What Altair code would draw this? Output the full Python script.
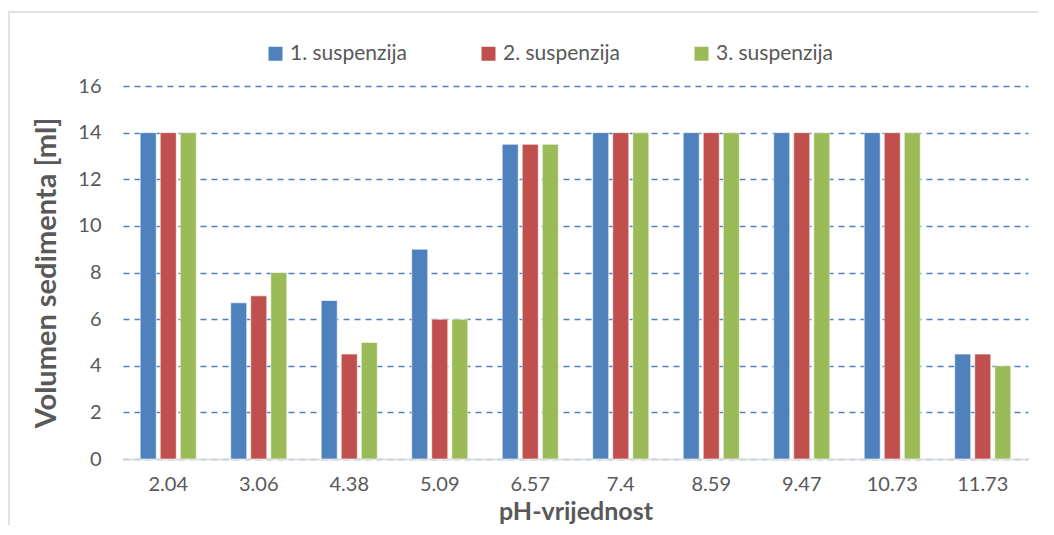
import altair as alt
import pandas as pd

ph = ["2.04", "3.06", "4.38", "5.09", "6.57", "7.4", "8.59", "9.47", "10.73", "11.73"]
series = ["1. suspenzija", "2. suspenzija", "3. suspenzija"]
s1 = [14, 6.7, 6.8, 9, 13.5, 14, 14, 14, 14, 4.5]
s2 = [14, 7, 4.5, 6, 13.5, 14, 14, 14, 14, 4.5]
s3 = [14, 8, 5, 6, 13.5, 14, 14, 14, 14, 4]
colors = ["#4F81BD", "#C0504D", "#9BBB59"]

rows = []
for name, vals in zip(series, [s1, s2, s3]):
    for p, v in zip(ph, vals):
        rows.append({"pH": p, "serija": name, "v": v})
df = pd.DataFrame(rows)

FONT = "Lato"
W, H = 905, 373

bars = alt.Chart(df).mark_bar(stroke="#ffffff", strokeWidth=1, strokeOpacity=0.6).encode(
    x=alt.X("pH:N", sort=ph,
            scale=alt.Scale(paddingInner=0.38, paddingOuter=0.19),
            axis=alt.Axis(title="pH-vrijednost", labelAngle=0, labelFontSize=20,
                          labelColor="#595959", labelPadding=15, labelFont=FONT,
                          titleFont=FONT, titleFontSize=25, titleFontWeight="bold",
                          titleColor="#595959", titlePadding=5,
                          domain=True, domainColor="#d9d9d9", domainWidth=1.5,
                          ticks=False)),
    xOffset=alt.XOffset("serija:N", sort=series, scale=alt.Scale(paddingInner=0.2)),
    y=alt.Y("v:Q", scale=alt.Scale(domain=[0, 16]),
            axis=alt.Axis(title="Volumen sedimenta [ml]", values=list(range(0, 17, 2)),
                          labelFontSize=20, labelColor="#595959", labelPadding=22,
                          labelFont=FONT, titleFont=FONT, titleFontSize=29,
                          titleFontWeight="bold", titleColor="#595959", titlePadding=16,
                          domain=False, ticks=False, grid=True, gridColor="#4F81BD",
                          gridDash=[6, 5], gridWidth=1.3)),
    color=alt.Color("serija:N", sort=series,
                    scale=alt.Scale(domain=series, range=colors),
                    legend=alt.Legend(title=None, orient="none", direction="horizontal",
                                      legendX=142, legendY=-43, symbolType="square",
                                      symbolSize=196, symbolStrokeWidth=0,
                                      labelFontSize=21, labelFont=FONT,
                                      labelColor="#595959", columnPadding=71,
                                      labelOffset=4)),
)

frame = alt.Chart(pd.DataFrame({"a": [0]})).mark_rect(
    fill=None, stroke="#d9d9d9", strokeWidth=1.5, clip=False
).encode(x=alt.value(-114), x2=alt.value(940), y=alt.value(-74), y2=alt.value(470))

chart = alt.layer(frame, bars).properties(
    width=W, height=H,
    padding={"left": 115, "top": 78, "right": 10, "bottom": 66},
    autosize=alt.AutoSizeParams(type="none"),
).configure_view(stroke=None)

chart.save("out.html", embed_options={"renderer": "svg", "actions": False})
